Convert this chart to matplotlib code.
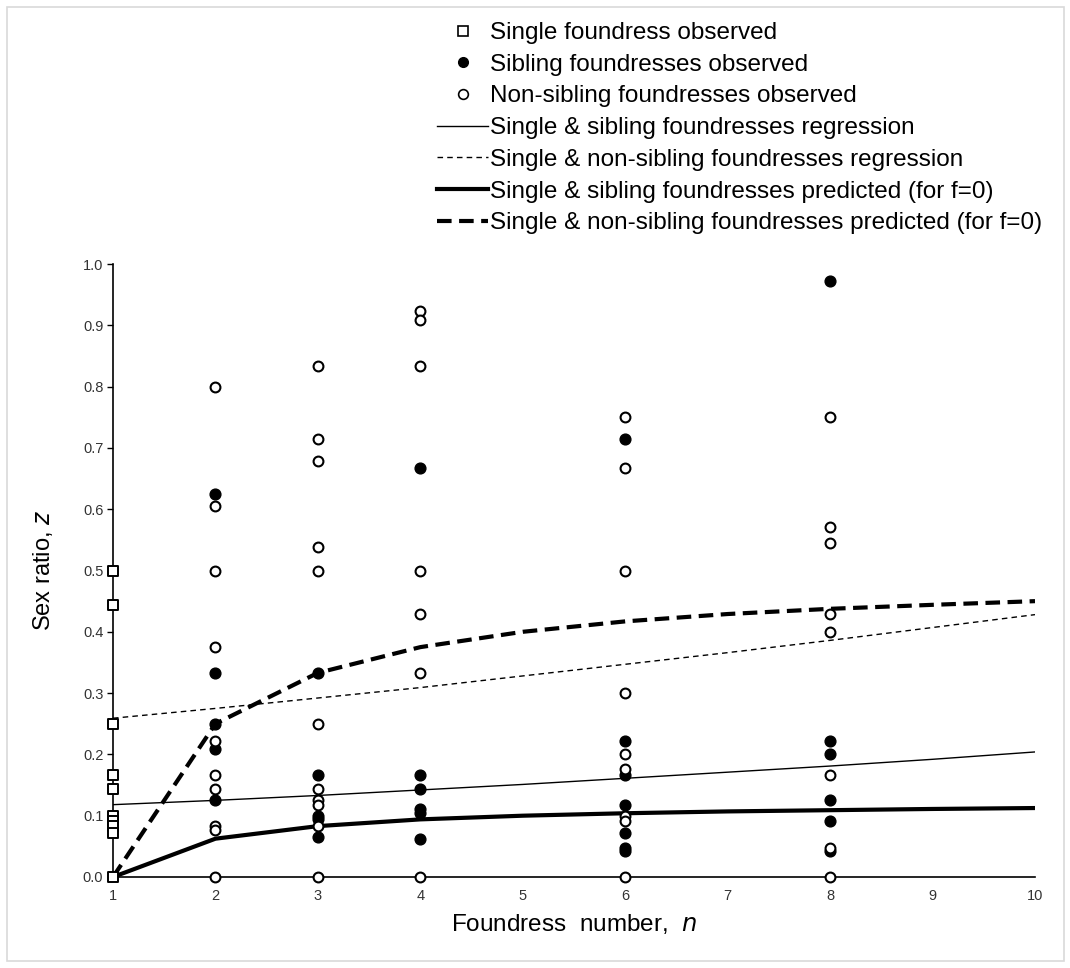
import matplotlib
matplotlib.use("Agg")
import matplotlib.pyplot as plt
from matplotlib.patches import Rectangle
from matplotlib.lines import Line2D

plt.rcParams['font.family'] = ['Liberation Sans', 'DejaVu Sans']

# ---- data ----
single_n = [1] * 10
single_z = [0.5, 0.444, 0.25, 0.167, 0.143, 0.1, 0.091, 0.083, 0.071, 0.0]

sib_n = [2, 2, 2, 2, 2,
         3, 3, 3, 3, 3,
         4, 4, 4, 4, 4, 4,
         6, 6, 6, 6, 6, 6, 6,
         8, 8, 8, 8, 8, 8]
sib_z = [0.625, 0.333, 0.25, 0.208, 0.125,
         0.333, 0.167, 0.1, 0.095, 0.065,
         0.667, 0.167, 0.143, 0.111, 0.105, 0.0625,
         0.714, 0.222, 0.167, 0.118, 0.071, 0.048, 0.042,
         0.972, 0.222, 0.2, 0.125, 0.091, 0.042]

nonsib_n = [2, 2, 2, 2, 2, 2, 2, 2, 2, 2,
            3, 3, 3, 3, 3, 3, 3, 3, 3, 3, 3,
            4, 4, 4, 4, 4, 4, 4,
            6, 6, 6, 6, 6, 6, 6, 6, 6,
            8, 8, 8, 8, 8, 8, 8, 8]
nonsib_z = [0.8, 0.605, 0.5, 0.375, 0.222, 0.167, 0.143, 0.083, 0.077, 0.0,
            0.833, 0.714, 0.679, 0.538, 0.5, 0.25, 0.143, 0.125, 0.118, 0.083, 0.0,
            0.923, 0.909, 0.833, 0.5, 0.429, 0.333, 0.0,
            0.75, 0.667, 0.5, 0.3, 0.2, 0.176, 0.1, 0.091, 0.0,
            0.75, 0.571, 0.545, 0.429, 0.4, 0.167, 0.048, 0.0]

curve_n = [1, 2, 3, 4, 5, 6, 7, 8, 9, 10]
sib_reg = [0.118, 0.125, 0.133, 0.142, 0.151, 0.161, 0.171, 0.181, 0.192, 0.204]
nonsib_reg = [0.259, 0.275, 0.292, 0.309, 0.328, 0.347, 0.366, 0.386, 0.407, 0.428]
sib_pred = [0.0, 0.0625, 0.083, 0.094, 0.1, 0.104, 0.107, 0.109, 0.111, 0.1125]
nonsib_pred = [0.0, 0.25, 0.333, 0.375, 0.4, 0.417, 0.429, 0.4375, 0.444, 0.45]

x_ticks = [1, 2, 3, 4, 5, 6, 7, 8, 9, 10]
y_ticks = [0.0, 0.1, 0.2, 0.3, 0.4, 0.5, 0.6, 0.7, 0.8, 0.9, 1.0]

labels = ["Single foundress observed",
          "Sibling foundresses observed",
          "Non-sibling foundresses observed",
          "Single & sibling foundresses regression",
          "Single & non-sibling foundresses regression",
          "Single & sibling foundresses predicted (for f=0)",
          "Single & non-sibling foundresses predicted (for f=0)"]

W, H = 1070, 968
fig = plt.figure(figsize=(W / 100, H / 100), dpi=100)
fig.patches.append(Rectangle((7 / W, 7 / H), (1064 - 7) / W, (961 - 7) / H,
                             transform=fig.transFigure, fill=False,
                             edgecolor='#d9d9d9', linewidth=1.2))

ax = fig.add_axes([113 / W, 1 - 877 / H, (1035 - 113) / W, (877 - 264) / H])

l4, = ax.plot(curve_n, sib_reg, color='black', lw=1.0, zorder=2)
l5, = ax.plot(curve_n, nonsib_reg, color='black', lw=1.0, ls=(0, (4, 3)), zorder=2)
l6, = ax.plot(curve_n, sib_pred, color='black', lw=3.0, zorder=2)
l7, = ax.plot(curve_n, nonsib_pred, color='black', lw=3.0, ls=(0, (3.5, 1.8)), zorder=2)

ax.scatter(single_n, single_z, marker='s', s=55, facecolor='white',
           edgecolor='black', linewidths=1.4, zorder=5, clip_on=False)
ax.scatter(sib_n, sib_z, marker='o', s=60, facecolor='black',
           edgecolor='black', linewidths=1.0, zorder=5, clip_on=False)
ax.scatter(nonsib_n, nonsib_z, marker='o', s=50, facecolor='white',
           edgecolor='black', linewidths=1.5, zorder=5, clip_on=False)

ax.set_xlim(1, 10)
ax.set_ylim(0, 1.0)
ax.set_xticks(x_ticks)
ax.set_xticklabels([str(v) for v in x_ticks])
ax.set_yticks(y_ticks)
ax.set_yticklabels([f"{v:.1f}" for v in y_ticks])
ax.tick_params(axis='x', length=0, pad=9, labelsize=10.5, labelcolor='#333333')
ax.tick_params(axis='y', length=4, width=1, direction='out', pad=3, labelsize=10.5,
               labelcolor='#333333', color='black')
for sp in ['top', 'right']:
    ax.spines[sp].set_visible(False)
for sp in ['left', 'bottom']:
    ax.spines[sp].set_linewidth(1.2)
    ax.spines[sp].set_zorder(3)

ax.set_xlabel("Foundress  number,  $\\it{n}$", fontsize=17.5, labelpad=6)
ax.set_ylabel("Sex ratio, $\\it{z}$", fontsize=17, labelpad=20)

h1 = Line2D([], [], marker='s', ls='none', markersize=7, markerfacecolor='white',
            markeredgecolor='black', markeredgewidth=1.2)
h2 = Line2D([], [], marker='o', ls='none', markersize=7, markerfacecolor='black',
            markeredgecolor='black')
h3 = Line2D([], [], marker='o', ls='none', markersize=7, markerfacecolor='white',
            markeredgecolor='black', markeredgewidth=1.2)
fig.legend([h1, h2, h3, l4, l5, l6, l7], labels, loc='upper left',
           bbox_to_anchor=(437 / W, 1 - 22 / H), frameon=False, fontsize=17.5,
           handlelength=2.1, handletextpad=0.08, labelspacing=0.4,
           borderpad=0, borderaxespad=0)

fig.savefig("out.png", dpi=100)
